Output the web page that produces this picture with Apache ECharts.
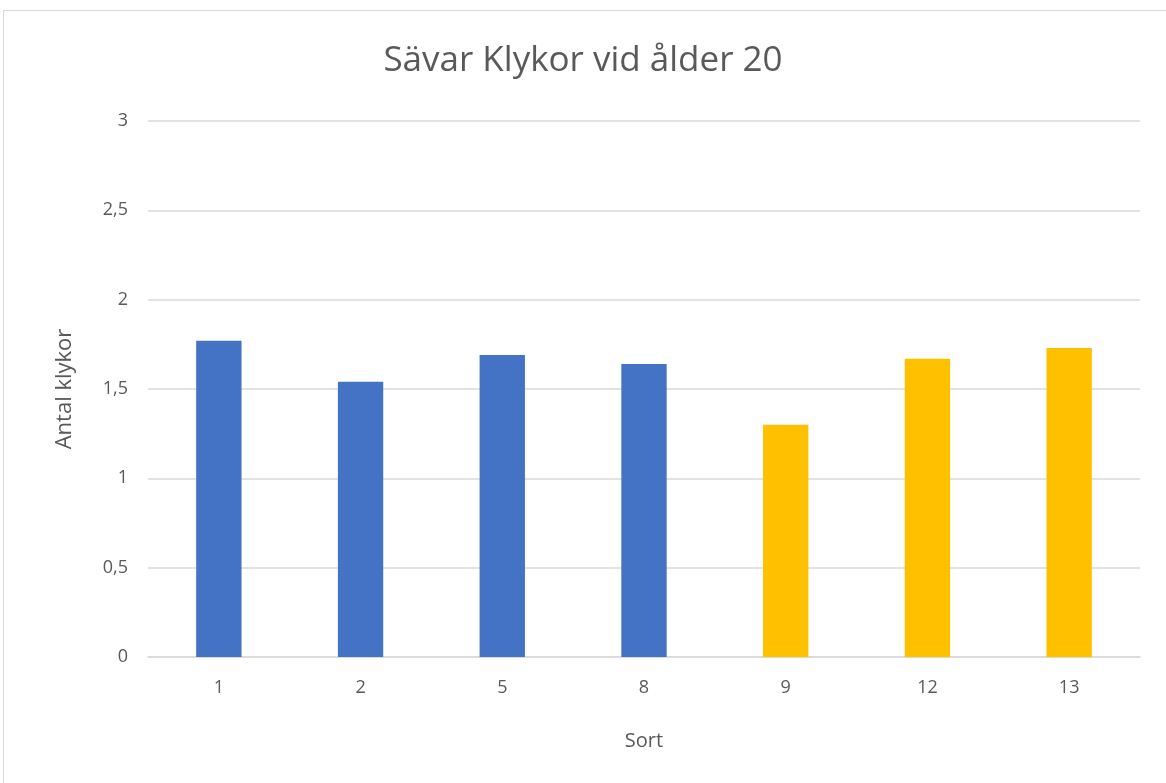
<!DOCTYPE html>
<html>
<head>
<meta charset="utf-8">
<script src="https://cdn.jsdelivr.net/npm/echarts@6/dist/echarts.min.js"></script>
<style>
  html, body { margin: 0; padding: 0; background: #ffffff; }
  #frame {
    position: absolute; left: 3px; top: 10px; width: 1170px; height: 780px;
    border: 1px solid #d9d9d9; box-sizing: border-box;
  }
  #chart { position: absolute; left: 0; top: 0; width: 1166px; height: 783px; }
</style>
</head>
<body>
<div id="frame"></div>
<div id="chart"></div>
<script>
const categories = ['1', '2', '5', '8', '9', '12', '13'];
const klykor = [1.77, 1.54, 1.69, 1.64, 1.30, 1.67, 1.73];
const yTicks = [0, 0.5, 1, 1.5, 2, 2.5, 3];

const chart = echarts.init(document.getElementById('chart'));
const textColor = '#595959';
const font = '"Open Sans", "Noto Sans", sans-serif';

const option = {
  animation: false,
  title: {
    text: 'Sävar Klykor vid ålder 20',
    left: 'center',
    top: 39,
    textStyle: { fontFamily: font, fontSize: 35, fontWeight: 'normal', color: textColor }
  },
  grid: { left: 148, right: 26, top: 121, bottom: 126 },
  xAxis: {
    type: 'category',
    data: categories,
    name: 'Sort',
    nameLocation: 'middle',
    nameGap: 74,
    nameTextStyle: { fontFamily: font, fontSize: 20, color: textColor },
    axisLine: { lineStyle: { color: '#d9d9d9', width: 1.5 } },
    axisTick: { show: false },
    axisLabel: { fontFamily: font, fontSize: 18, color: textColor, margin: 22 }
  },
  yAxis: {
    type: 'value',
    min: yTicks[0],
    max: yTicks[yTicks.length - 1],
    interval: 0.5,
    name: 'Antal klykor',
    nameLocation: 'middle',
    nameGap: 72,
    nameTextStyle: { fontFamily: font, fontSize: 22, color: textColor },
    axisLine: { show: false },
    axisTick: { show: false },
    axisLabel: {
      fontFamily: font, fontSize: 18, color: textColor, margin: 20,
      formatter: v => String(v).replace('.', ',')
    },
    splitLine: { lineStyle: { color: '#d9d9d9', width: 1.5 } }
  },
  series: [{
    type: 'bar',
    data: klykor,
    barWidth: '32%',
    itemStyle: {
      color: p => p.dataIndex < 4 ? '#4472c4' : '#ffc000'
    }
  }]
};

chart.setOption(option);
</script>
</body>
</html>
